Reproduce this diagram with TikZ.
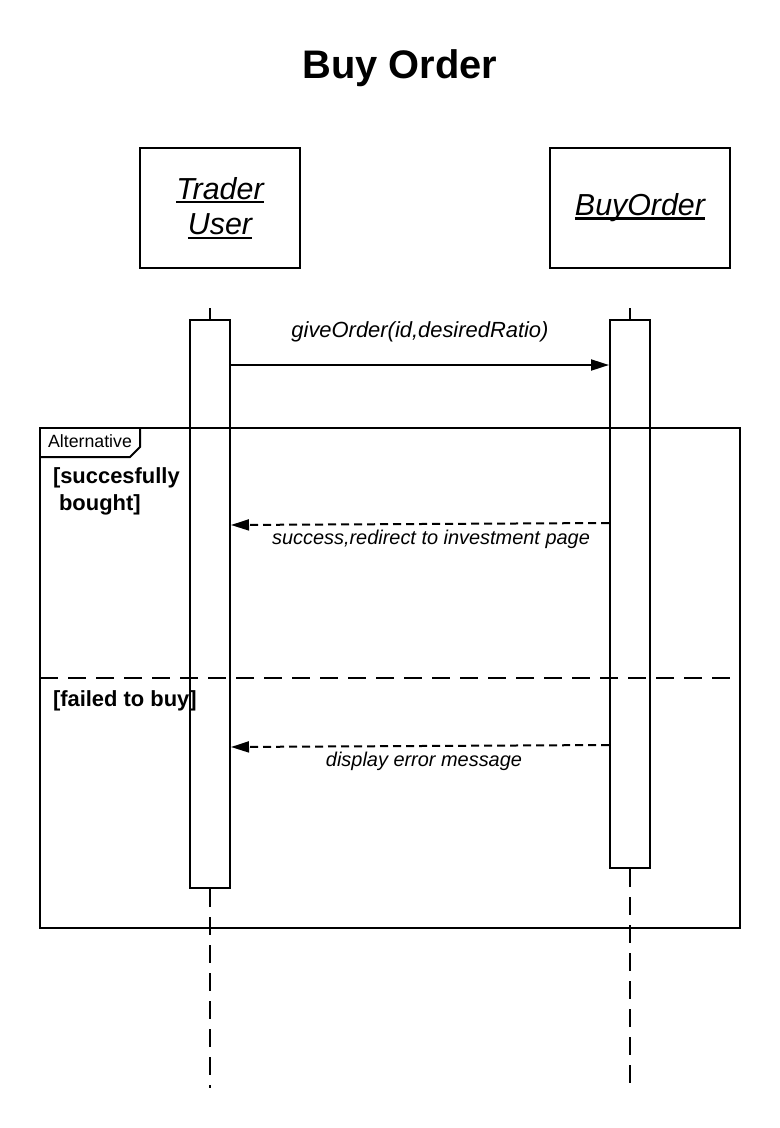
\documentclass[tikz,border=0pt]{standalone}
\usepackage{fontspec}
\setmainfont{Liberation Sans}
\usetikzlibrary{arrows.meta,positioning}
\newcommand\ulword[1]{\setbox0\hbox{#1}\rlap{\rule[-4bp]{\wd0}{2.4bp}}\box0}

\begin{document}
\begin{tikzpicture}[x=1bp,y=-1bp,line width=2bp,
  actor/.style={draw,minimum height=120bp,align=center,font=\fontsize{30.5}{36}\selectfont\itshape},
  activation/.style={draw,minimum width=40bp},
  msg/.style={-{Triangle[length=18bp,width=11bp]}},
  reply/.style={msg,dash pattern=on 8bp off 5bp},
  lifeline/.style={dash pattern=on 18bp off 10bp},
  msglabel/.style={font=\fontsize{20}{24}\selectfont\itshape},
  guard/.style={font=\fontsize{22}{27}\selectfont\bfseries,align=left,anchor=north west,inner sep=0pt}]
  \useasboundingbox (0,0) rectangle (780,1128);

  \node[font=\fontsize{40}{48}\selectfont\bfseries] (title) at (400,68) {Buy Order};

  % objects
  \node[actor,minimum width=160bp] (trader) at (220,208) {\ulword{Trader}\\\ulword{User}};
  \node[actor,minimum width=180bp] (buyorder) at (640,208) {\ulword{BuyOrder}};

  % lifelines
  \coordinate (traderTop) at (210,308);
  \coordinate (traderEnd) at (210,1088);
  \coordinate (buyTop) at (630,308);
  \coordinate (buyEnd) at (630,1088);
  \node[activation,minimum height=568bp] (actT) at (210,604) {};
  \node[activation,minimum height=548bp] (actB) at (630,594) {};
  \draw (traderTop) -- (actT.north);
  \draw (buyTop) -- (actB.north);
  \draw[lifeline] (actT.south) -- (traderEnd);
  \draw[lifeline] (actB.south) -- (buyEnd);

  % combined fragment
  \draw (40,428) rectangle (740,928);
  \draw (40,457) -- (130,457) -- (140,447) -- (140,428);
  \node[font=\fontsize{17.8}{21}\selectfont] (altLabel) at (90,441) {Alternative};
  \draw[lifeline] (40,678) -- (740,678);
  \node[guard] (guard1) at (52,467) {[succesfully\\\ bought]};
  \node[guard] (guard2) at (52,690) {[failed to buy]};

  % messages
  \draw[msg] (actT.east |- 0,365) -- (actB.west |- 0,365);
  \node[msglabel,font=\fontsize{22}{26}\selectfont\itshape] (m1) at (420,332) {giveOrder(id,desiredRatio)};
  \draw[reply] (actB.west |- 0,523) -- (actT.east |- 0,525);
  \node[msglabel] (m2) at (431,539) {success,redirect to investment page};
  \draw[reply] (actB.west |- 0,745) -- (actT.east |- 0,747);
  \node[msglabel] (m3) at (424,761) {display error message};
\end{tikzpicture}
\end{document}
